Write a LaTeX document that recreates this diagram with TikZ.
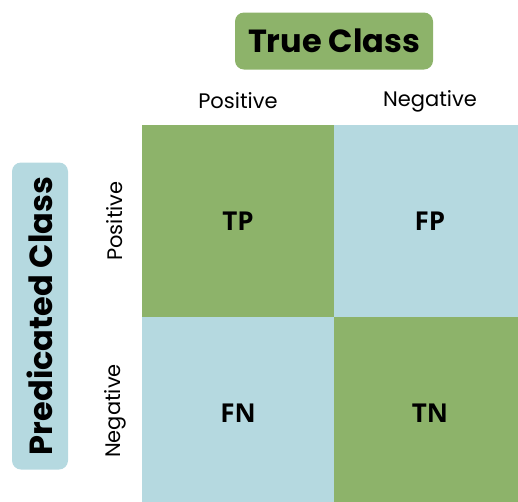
\documentclass[tikz,border=0pt]{standalone}
\usepackage{fontspec}
\setmainfont{Poppins}
\newfontfamily\cellfont{Open Sans}
\definecolor{cmgreen}{HTML}{8DB36A}
\definecolor{cmblue}{HTML}{B5D9E0}
\begin{document}
\begin{tikzpicture}[x=1pt,y=-1pt]
        \tikzstyle{title} = [rectangle, rounded corners=9pt, minimum width=198pt, minimum height=57pt, text centered, inner sep=0pt, font=\fontsize{32}{34}\selectfont\bfseries]
        \tikzstyle{cell} = [rectangle, minimum width=192pt, minimum height=192pt, inner sep=0pt, text centered, font=\cellfont\fontsize{26}{30}\selectfont\bfseries]
        \tikzstyle{lab} = [font=\fontsize{21}{24}\selectfont, inner sep=0pt]
        \useasboundingbox (0,0) rectangle (518,501);
        \node (true) [title, fill=cmgreen] at (334, 41) {True Class};
        \node (pred) [title, fill=cmblue, rotate=90, minimum width=307pt, minimum height=56pt] at (40, 316) {Predicated Class};
        \node (colp) [lab] at (238, 101) {Positive};
        \node (coln) [lab] at (430, 101) {Negative};
        \node (rowp) [lab, rotate=90] at (115, 221) {Positive};
        \node (rown) [lab, rotate=90] at (115, 411) {Negative};
        \node (tp) [cell, fill=cmgreen] at (238, 221) {TP};
        \node (fp) [cell, fill=cmblue] at (430, 221) {FP};
        \node (fn) [cell, fill=cmblue] at (238, 413) {FN};
        \node (tn) [cell, fill=cmgreen] at (430, 413) {TN};
\end{tikzpicture}
\end{document}
